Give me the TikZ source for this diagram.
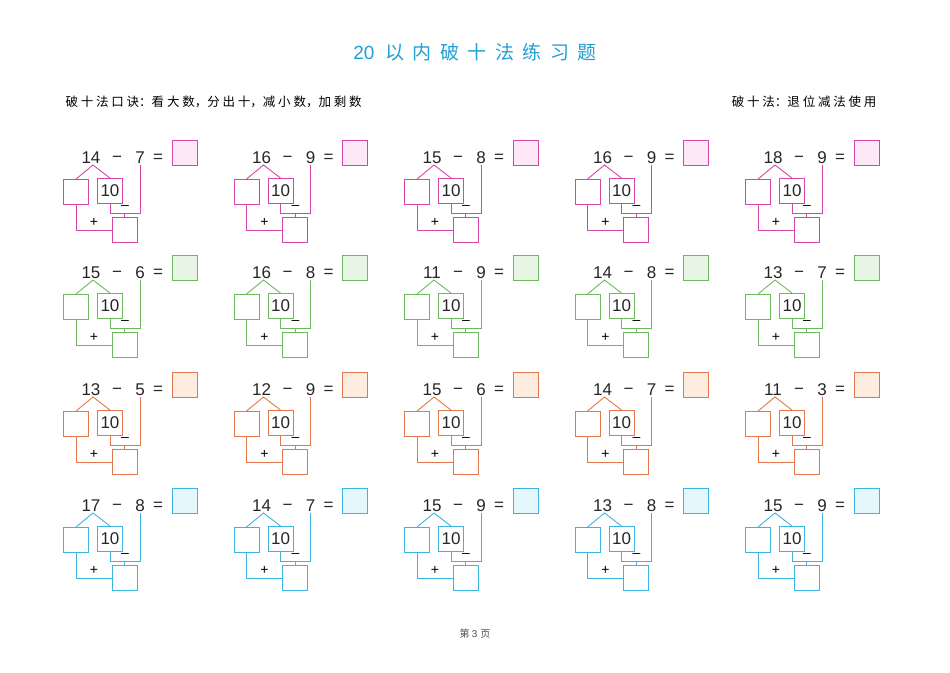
\documentclass[tikz,border=0pt]{standalone}
\usepackage{fontspec}
\setmainfont{Noto Sans CJK SC}
\newfontfamily\arialf{Liberation Sans}
\definecolor{cpk}{RGB}{214,70,170}\definecolor{fpk}{RGB}{252,232,246}
\definecolor{cgn}{RGB}{110,185,95}\definecolor{fgn}{RGB}{232,245,228}
\definecolor{cor}{RGB}{225,120,75}\definecolor{for}{RGB}{253,236,224}
\definecolor{ccy}{RGB}{60,180,225}\definecolor{fcy}{RGB}{230,246,253}
\definecolor{ttl}{RGB}{30,160,215}
\tikzset{x=1pt,y=-1pt,
 bx/.style={draw=#1,line width=0.9pt,minimum width=25pt,minimum height=25pt,inner sep=0pt},
 ln/.style={draw=#1,line width=0.9pt},
 num/.style={font=\arialf\fontsize{17}{17}\selectfont,inner sep=0pt,text=black!85},
 lab/.style={font=\arialf\fontsize{14}{14}\selectfont,inner sep=0pt}}
\newcommand{\mycell}[7]{% name, x, y, a, b, line colour, fill
 \begin{scope}[shift={(#2,#3)}]
 \node[num] (#1a) at (36,23) {#4};
 \node[num] (#1m) at (62,24) {−};
 \node[num] (#1b) at (85,23) {#5};
 \node[num] (#1e) at (103,23) {=};
 \node[bx=#6,fill=#7] (#1r) at (129.5,18) {};
 \node[bx=#6] (#1l) at (21,57) {};
 \node[bx=#6,num] (#1t) at (55,56) {10};
 \node[bx=#6] (#1o) at (69.5,95) {};
 \coordinate (#1p) at (38,30);
 \draw[ln=#6] (#1l.north) -- (#1p) -- (#1t.north);
 \draw[ln=#6] (#1t.south) |- (85,78) -- (85,30);
 \draw[ln=#6] (#1o.north) -- (#1o.north|-0,78);
 \draw[ln=#6] (#1l.south) |- (#1o.west);
 \node[lab] (#1mi) at (70,72) {–};
 \node[lab] (#1pl) at (39,87) {+};
 \end{scope}}
\begin{document}
\begin{tikzpicture}
\useasboundingbox (0,0) rectangle (950,672);
\node[text=ttl,font=\fontsize{19}{19}\selectfont] (title) at (475,52) {\arialf 20\ \ \normalfont 以\ \ 内\ \ 破\ \ 十\ \ 法\ \ 练\ \ 习\ \ 题};
\node[anchor=west,font=\fontsize{12.5}{14}\selectfont] (rule) at (62,102) {破\ 十\ 法\ 口\ 诀：看\ 大\ 数，分\ 出\ 十，减\ 小\ 数，加\ 剩\ 数};
\node[anchor=east,font=\fontsize{12.5}{14}\selectfont] (kind) at (880,102) {破\ 十\ 法：退\ 位\ 减\ 法\ 使\ 用};
\node[font=\fontsize{10}{12}\selectfont,text=black!70] (foot) at (475,634) {第 \arialf 3 \normalfont 页};
\foreach \i/\b [count=\k from 0] in {14/7,16/9,15/8,16/9,18/9}{\mycell{p\k}{55+170.5*\k}{135}{\i}{\b}{cpk}{fpk}}
\foreach \i/\b [count=\k from 0] in {15/6,16/8,11/9,14/8,13/7}{\mycell{g\k}{55+170.5*\k}{250}{\i}{\b}{cgn}{fgn}}
\foreach \i/\b [count=\k from 0] in {13/5,12/9,15/6,14/7,11/3}{\mycell{o\k}{55+170.5*\k}{367}{\i}{\b}{cor}{for}}
\foreach \i/\b [count=\k from 0] in {17/8,14/7,15/9,13/8,15/9}{\mycell{c\k}{55+170.5*\k}{483}{\i}{\b}{ccy}{fcy}}
\end{tikzpicture}
\end{document}
